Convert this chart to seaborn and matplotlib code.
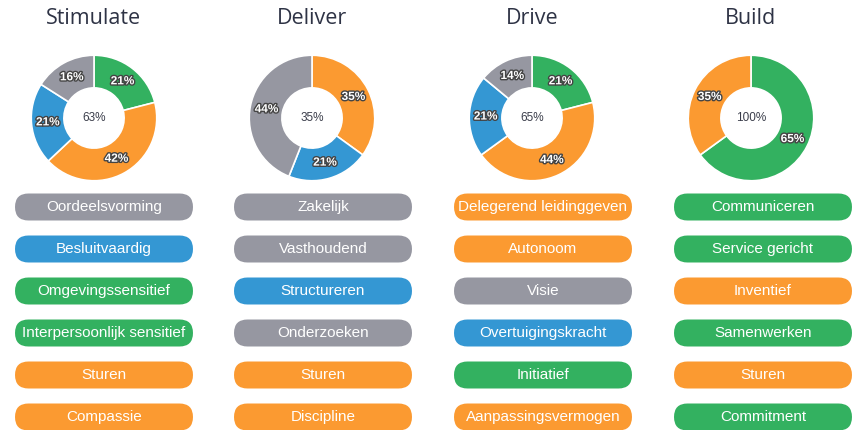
import matplotlib
matplotlib.use("Agg")
import numpy as np
import matplotlib.pyplot as plt
import matplotlib.patheffects as pe
from matplotlib.patches import FancyBboxPatch
import seaborn as sns

sns.set_theme(style="white")
plt.rcParams['font.family'] = ['Liberation Sans', 'DejaVu Sans']

# ---- data ----
groups = ["Stimulate", "Deliver", "Drive", "Build"]
segment_names = ["green", "orange", "blue", "gray"]
stimulate_pct = [21, 42, 21, 16]
deliver_pct = [0, 35, 21, 44]
drive_pct = [21, 44, 21, 14]
build_pct = [65, 35, 0, 0]
center_labels = ["63%", "35%", "65%", "100%"]

stimulate_items = ["Oordeelsvorming", "Besluitvaardig", "Omgevingssensitief",
                   "Interpersoonlijk sensitief", "Sturen", "Compassie"]
stimulate_cats = ["gray", "blue", "green", "green", "orange", "orange"]
deliver_items = ["Zakelijk", "Vasthoudend", "Structureren", "Onderzoeken",
                 "Sturen", "Discipline"]
deliver_cats = ["gray", "gray", "blue", "gray", "orange", "orange"]
drive_items = ["Delegerend leidinggeven", "Autonoom", "Visie",
               "Overtuigingskracht", "Initiatief", "Aanpassingsvermogen"]
drive_cats = ["orange", "orange", "gray", "blue", "green", "orange"]
build_items = ["Communiceren", "Service gericht", "Inventief", "Samenwerken",
               "Sturen", "Commitment"]
build_cats = ["green", "green", "orange", "green", "orange", "green"]

palette = dict(zip(segment_names, sns.color_palette(
    ["#33b160", "#fb9a31", "#3497d3", "#9697a1"])))

all_pcts = [stimulate_pct, deliver_pct, drive_pct, build_pct]
all_items = [stimulate_items, deliver_items, drive_items, build_items]
all_cats = [stimulate_cats, deliver_cats, drive_cats, build_cats]

# ---- layout ----
W, H = 854, 430
fig = plt.figure(figsize=(W / 100, H / 100), dpi=100)
bg = fig.add_axes([0, 0, 1, 1])
bg.set_xlim(0, W)
bg.set_ylim(H, 0)
bg.axis("off")

donut_cx = [94, 312, 532, 751]
pill_cx = [104, 323, 543, 763]
donut_cy = 118
R = 64
pill_w, pill_h = 178, 27
pill_y0, pill_dy = 207, 42
title_color = "#2e3345"

for g, name in enumerate(groups):
    cx = donut_cx[g]
    bg.text(cx, 19, name, ha="center", va="center", fontsize=15.5,
            color=title_color, family=["Open Sans", "DejaVu Sans"])

    ax = fig.add_axes([(cx - R) / W, 1 - (donut_cy + R) / H, 2 * R / W, 2 * R / H])
    vals = [v for v in all_pcts[g] if v > 0]
    cols = [palette[n] for n, v in zip(segment_names, all_pcts[g]) if v > 0]
    ax.pie(vals, colors=cols, startangle=90, counterclock=False,
           radius=1, wedgeprops=dict(width=0.52, edgecolor="white", linewidth=1.2))
    start = 90.0
    for v in vals:
        mid = np.deg2rad(start - v * 3.6 / 2)
        start -= v * 3.6
        ax.text(0.74 * np.cos(mid), 0.74 * np.sin(mid), f"{v}%",
                ha="center", va="center", fontsize=8.5, fontweight="bold",
                color="white",
                path_effects=[pe.withStroke(linewidth=2.0, foreground="#444444")])
    ax.text(0, 0, center_labels[g], ha="center", va="center", fontsize=8.5,
            color="#3a3d4a")
    ax.set_xlim(-1.02, 1.02)
    ax.set_ylim(-1.02, 1.02)
    ax.set_aspect("equal")
    ax.axis("off")

    pcx = pill_cx[g]
    for i, (item, cat) in enumerate(zip(all_items[g], all_cats[g])):
        y = pill_y0 + i * pill_dy
        box = FancyBboxPatch((pcx - pill_w / 2 + pill_h / 2, y - 0.005),
                             pill_w - pill_h, 0.01,
                             boxstyle=f"round,pad={pill_h / 2 - 0.01},rounding_size={pill_h / 2}",
                             facecolor=palette[cat], edgecolor="none")
        bg.add_patch(box)
        bg.text(pcx, y, item, ha="center", va="center", fontsize=11,
                color="white")

fig.savefig("out.png", dpi=100)
